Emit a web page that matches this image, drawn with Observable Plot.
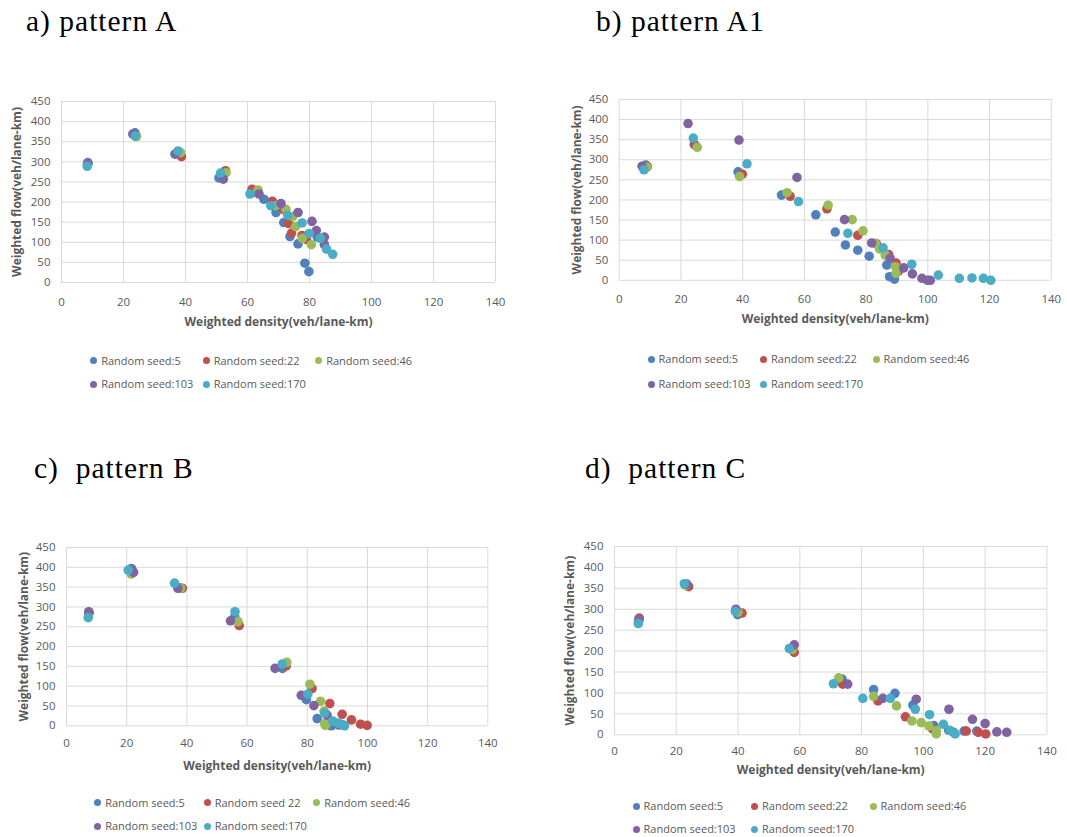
<!DOCTYPE html>
<html>
<head>
<meta charset="utf-8">
<script src="https://cdn.jsdelivr.net/npm/d3@7"></script>
<script src="https://cdn.jsdelivr.net/npm/@observablehq/plot@0.6"></script>
<style>
  html, body { margin: 0; padding: 0; background: #fff; }
  body { width: 1067px; height: 837px; position: relative; overflow: hidden; font-family: "Open Sans", sans-serif; }
  .title { position: absolute; font-family: "Liberation Serif", "Times New Roman", serif; font-size: 29.5px; line-height: 1; color: #000; white-space: pre; letter-spacing: 1px; z-index: 2; }
  .panel { position: absolute; }
  .panel svg { overflow: visible; }
  .item { position: absolute; display: flex; align-items: center; white-space: nowrap; font-size: 11px; line-height: 14px; color: #595959; }
  .item i { display: inline-block; width: 7px; height: 7px; border-radius: 50%; margin-right: 4px; }
</style>
</head>
<body>
<script>
// Seeds and their series colours
const seeds = [5, 22, 46, 103, 170];
const seedColors = ["#4F81BD", "#C0504D", "#9BBB59", "#8064A2", "#4BACC6"];

// Axis ticks and labels
const xTicks = [0, 20, 40, 60, 80, 100, 120, 140];
const yTicks = [0, 50, 100, 150, 200, 250, 300, 350, 400, 450];
const xLabel = "Weighted density(veh/lane-km)";
const yLabel = "Weighted flow(veh/lane-km)";

// Panel titles and legend labels
const titles = ["a) pattern A", "b) pattern A1", "c)  pattern B", "d)  pattern C"];
const legendLabels = ["Random seed:5", "Random seed:22", "Random seed:46", "Random seed:103", "Random seed:170"];
const legendLabelsB = ["Random seed:5", "Random seed 22", "Random seed:46", "Random seed:103", "Random seed:170"];

// Pattern A: [density, flow]
const patternA_seed5 = [[8.5, 298], [23.7, 372], [36.6, 319], [50.8, 260], [61.2, 222], [65.3, 207], [69.2, 174], [71.7, 149], [73.7, 114], [76.3, 96], [82.5, 113], [78.5, 48], [79.8, 27]];
const patternA_seed22 = [[8.4, 295], [24.0, 365], [38.7, 313], [52.9, 278], [61.5, 232], [68.0, 202], [71.7, 181], [73.2, 147], [74.2, 123], [77.6, 117], [79.0, 107]];
const patternA_seed46 = [[8.4, 293], [24.2, 363], [38.4, 323], [53.1, 273], [63.4, 230], [69.0, 191], [72.4, 182], [74.6, 164], [75.5, 139], [77.7, 110], [80.6, 94]];
const patternA_seed103 = [[8.5, 296], [23.0, 369], [36.8, 320], [52.2, 257], [63.7, 220], [70.8, 196], [76.3, 174], [80.8, 152], [82.2, 129], [84.8, 113], [84.8, 94]];
const patternA_seed170 = [[8.3, 289], [23.8, 364], [37.6, 327], [51.3, 272], [60.8, 220], [67.5, 191], [73.0, 167], [77.6, 148], [79.9, 122], [83.5, 110], [85.5, 83], [87.5, 70]];

// Pattern A1
const patternA1_seed5 = [[8.6, 287], [24.3, 338], [38.5, 270], [52.6, 212], [63.7, 163], [70.0, 120], [73.3, 88], [77.3, 75], [81.0, 60], [86.7, 38], [87.6, 9], [89.2, 3]];
const patternA1_seed22 = [[9.1, 283], [24.5, 337], [39.9, 264], [55.4, 209], [67.3, 178], [77.3, 112], [83.3, 91], [87.3, 64], [89.7, 43], [90.5, 23]];
const patternA1_seed46 = [[9.0, 281], [25.3, 331], [39.0, 258], [54.4, 218], [67.7, 187], [75.5, 151], [79.0, 123], [83.0, 92], [84.4, 78], [86.2, 63], [89.5, 34], [89.7, 17]];
const patternA1_seed103 = [[7.4, 284], [22.3, 390], [38.8, 349], [57.6, 256], [73.0, 151], [81.8, 93], [87.8, 55], [92.2, 31], [95.0, 16], [98.1, 5], [99.9, 0], [100.8, 0]];
const patternA1_seed170 = [[8.0, 275], [24.0, 354], [41.4, 290], [58.1, 196], [74.1, 117], [85.5, 81], [94.8, 40], [103.4, 13], [110.2, 5], [114.3, 6], [118.0, 5], [120.4, 0]];

// Pattern B
const patternB_seed5 = [[7.4, 284], [21.6, 397], [37.5, 348], [55.9, 275], [71.8, 145], [79.7, 66], [83.3, 18], [88.0, 0], [92.2, 1]];
const patternB_seed22 = [[7.5, 285], [22.0, 389], [38.5, 347], [57.4, 253], [73.0, 151], [81.6, 94], [87.5, 56], [91.6, 29], [94.7, 15], [97.7, 4], [99.9, 1]];
const patternB_seed46 = [[7.3, 282], [21.5, 383], [38.0, 347], [57.0, 263], [73.2, 160], [80.9, 105], [84.4, 62], [85.6, 37], [85.8, 6], [86.0, 1]];
const patternB_seed103 = [[7.4, 288], [22.3, 387], [37.0, 347], [54.5, 265], [69.3, 145], [78.0, 77], [82.2, 51], [86.6, 27], [90.5, 2]];
const patternB_seed170 = [[7.2, 273], [20.5, 393], [35.9, 360], [56.0, 288], [71.7, 156], [80.2, 80], [85.8, 32], [88.5, 12], [90.2, 7], [91.3, 4], [92.4, 0]];

// Pattern C
const patternC_seed5 = [[7.8, 272], [23.0, 359], [39.9, 287], [57.2, 206], [73.7, 133], [83.9, 108], [90.8, 99], [96.6, 71], [103.4, 22], [108.2, 11], [109.8, 6], [113.2, 9], [117.3, 9]];
const patternC_seed22 = [[8.0, 279], [24.0, 354], [41.3, 291], [58.2, 197], [73.9, 121], [85.3, 81], [94.2, 43], [103.0, 14], [113.9, 9], [117.8, 6], [120.2, 2]];
const patternC_seed46 = [[7.8, 270], [23.1, 357], [40.0, 293], [57.6, 204], [72.6, 136], [83.9, 92], [91.3, 69], [96.3, 33], [99.3, 29], [101.8, 21], [104.2, 10], [104.2, 2]];
const patternC_seed103 = [[7.9, 275], [23.4, 360], [39.3, 300], [58.2, 215], [75.5, 121], [86.9, 87], [97.7, 85], [108.3, 61], [115.9, 37], [120.0, 27], [123.8, 7], [127.0, 6]];
const patternC_seed170 = [[7.7, 266], [22.6, 361], [39.1, 295], [56.6, 206], [70.9, 122], [80.4, 87], [89.3, 87], [97.4, 61], [102.0, 48], [106.5, 25], [108.7, 10], [110.3, 2]];

// Page layout of each panel: plot frame, offsets of axis text, legend grid
const panels = [
  { title: titles[0], titleAt: [26, 7],
    series: [patternA_seed5, patternA_seed22, patternA_seed46, patternA_seed103, patternA_seed170],
    frame: { left: 61, right: 495, top: 101, bottom: 282 }, xPad: 15, xLabelDy: 40, yLabelDx: -44,
    legend: { labels: legendLabels, x: 93.7, y: 360.7, col: 112.5, row: 23.5 } },
  { title: titles[1], titleAt: [596, 7],
    series: [patternA1_seed5, patternA1_seed22, patternA1_seed46, patternA1_seed103, patternA1_seed170],
    frame: { left: 619.3, right: 1053.3, top: 99.3, bottom: 281 }, xPad: 14.5, xLabelDy: 39, yLabelDx: -42,
    legend: { labels: legendLabels, x: 651, y: 359, col: 112.5, row: 25 } },
  { title: titles[2], titleAt: [34, 454],
    series: [patternB_seed5, patternB_seed22, patternB_seed46, patternB_seed103, patternB_seed170],
    frame: { left: 66, right: 487.3, top: 546.7, bottom: 725 }, xPad: 13.5, xLabelDy: 40, yLabelDx: -42,
    legend: { labels: legendLabelsB, x: 97.7, y: 802.7, col: 109.5, row: 23.3 } },
  { title: titles[3], titleAt: [585, 454],
    series: [patternC_seed5, patternC_seed22, patternC_seed46, patternC_seed103, patternC_seed170],
    frame: { left: 614.3, right: 1046.7, top: 545.7, bottom: 734 }, xPad: 12, xLabelDy: 35.5, yLabelDx: -44,
    legend: { labels: legendLabels, x: 636, y: 806, col: 118.5, row: 23 } }
];

const ML = 62, MR = 16, MT = 12, MB = 52;

for (const p of panels) {
  const f = p.frame;
  const rows = p.series.flatMap((pts, i) => pts.map(([x, y]) => ({ x, y, seed: seeds[i] })));

  const chart = Plot.plot({
    width: f.right - f.left + ML + MR,
    height: f.bottom - f.top + MT + MB,
    marginLeft: ML, marginRight: MR, marginTop: MT, marginBottom: MB,
    style: { fontFamily: "Open Sans, sans-serif", fontSize: "11.5px", background: "transparent", color: "#595959" },
    x: { domain: [0, 140] },
    y: { domain: [0, 450] },
    color: { domain: seeds, range: seedColors },
    marks: [
      Plot.gridX(xTicks, { stroke: "#d9d9d9", strokeOpacity: 1 }),
      Plot.gridY(yTicks, { stroke: "#d9d9d9", strokeOpacity: 1 }),
      Plot.axisX(xTicks, { tickSize: 0, tickPadding: p.xPad, label: null, fill: "#595959" }),
      Plot.axisY(yTicks, { tickSize: 0, tickPadding: 11, label: null, fill: "#595959" }),
      Plot.dot(rows, { x: "x", y: "y", fill: "seed", r: 4.8 }),
      Plot.text([xLabel], { text: d => d, frameAnchor: "bottom", dy: p.xLabelDy, textAnchor: "middle", lineAnchor: "middle", fontWeight: "bold", fontSize: 12, fill: "#595959" }),
      Plot.text([yLabel], { text: d => d, frameAnchor: "left", dx: p.yLabelDx, rotate: -90, textAnchor: "middle", lineAnchor: "middle", fontWeight: "bold", fontSize: 12, fill: "#595959" })
    ]
  });
  const wrap = document.createElement("div");
  wrap.className = "panel";
  wrap.style.left = (f.left - ML) + "px";
  wrap.style.top = (f.top - MT) + "px";
  wrap.appendChild(chart);
  document.body.appendChild(wrap);

  const t = document.createElement("div");
  t.className = "title";
  t.textContent = p.title;
  t.style.left = p.titleAt[0] + "px";
  t.style.top = p.titleAt[1] + "px";
  document.body.appendChild(t);

  // Legend: three entries on the first row, two on the second
  const L = p.legend;
  L.labels.forEach((label, i) => {
    const r = Math.floor(i / 3), c = i % 3;
    const item = document.createElement("div");
    item.className = "item";
    item.style.left = (L.x + c * L.col - 3.5) + "px";
    item.style.top = (L.y + r * L.row - 7) + "px";
    const m = document.createElement("i");
    m.style.background = seedColors[i];
    item.appendChild(m);
    item.appendChild(document.createTextNode(label));
    document.body.appendChild(item);
  });
}
</script>
</body>
</html>
